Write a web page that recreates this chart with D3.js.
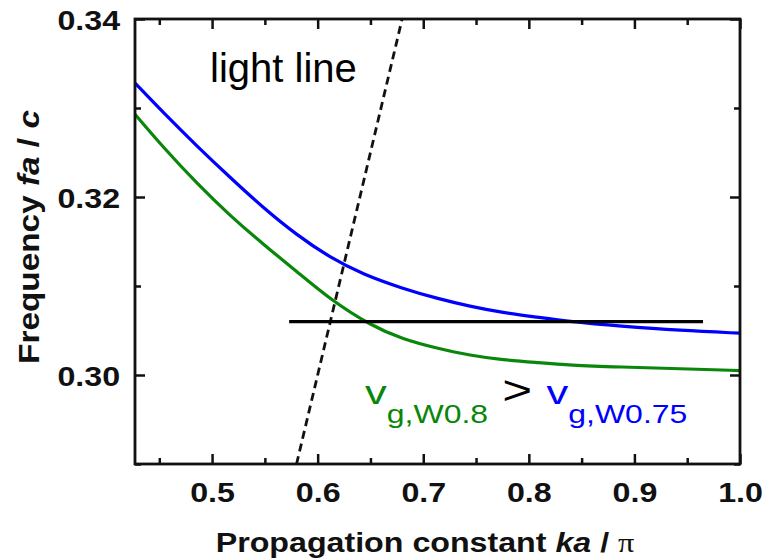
<!DOCTYPE html>
<html>
<head>
<meta charset="utf-8">
<script src="https://cdn.jsdelivr.net/npm/d3@7"></script>
<style>
  html, body { margin: 0; padding: 0; background: #fff; }
  svg { display: block; }
  text { font-family: "Liberation Sans", Arial, sans-serif; }
</style>
</head>
<body>
<svg id="chart" width="770" height="558"></svg>
<script>
// Dispersion of the guided mode for two waveguide widths (W0.75 and W0.8)
const kW075 = [0.427, 0.4536, 0.4858, 0.5170, 0.5483, 0.5805, 0.6117, 0.6430, 0.6809, 0.7131, 0.7443, 0.7756, 0.8078, 0.8390, 0.8864, 0.9432, 1.0];
const fW075 = [0.3328, 0.3295, 0.3257, 0.3222, 0.3188, 0.3157, 0.3132, 0.3113, 0.3097, 0.3086, 0.3077, 0.3070, 0.3065, 0.3060, 0.3055, 0.3050, 0.3047];

const kW08 = [0.427, 0.4536, 0.4858, 0.5170, 0.5483, 0.5805, 0.6117, 0.6496, 0.6809, 0.7131, 0.7443, 0.7756, 0.8078, 0.8390, 0.8864, 0.9432, 1.0];
const fW08 = [0.3293, 0.3256, 0.3215, 0.3179, 0.3147, 0.3116, 0.3085, 0.3056, 0.3040, 0.3030, 0.3022, 0.3017, 0.3014, 0.3011, 0.3009, 0.3007, 0.3005];

// light line (dashed) and the operating-frequency line
const lightK = [0.58, 0.68];
const lightF = [0.29, 0.34];
const opK = [0.573, 0.965];
const opF = [0.3060, 0.3060];

const xDomain = [0.427, 1.0];
const yDomain = [0.29, 0.34];
const xMajor = [0.5, 0.6, 0.7, 0.8, 0.9, 1.0];
const xMinor = [0.45, 0.55, 0.65, 0.75, 0.85, 0.95];
const yMajor = [0.30, 0.32, 0.34];
const yMinor = [0.29, 0.31, 0.33];

const svg = d3.select("#chart");
const margin = {left: 135, top: 19, right: 30, bottom: 94};
const W = 770, H = 558;
const iw = W - margin.left - margin.right;
const ih = H - margin.top - margin.bottom;
const x0 = margin.left, x1 = margin.left + iw, y0 = margin.top + ih, y1 = margin.top;

const x = d3.scaleLinear().domain(xDomain).range([x0, x1]);
const y = d3.scaleLinear().domain(yDomain).range([y0, y1]);

svg.append("defs").append("clipPath").attr("id", "plotClip")
  .append("rect").attr("x", x0).attr("y", y1).attr("width", iw).attr("height", ih);

const plot = svg.append("g").attr("clip-path", "url(#plotClip)");

const line = d3.line().x(d => x(d[0])).y(d => y(d[1])).curve(d3.curveBasis);
const straight = d3.line().x(d => x(d[0])).y(d => y(d[1]));

plot.append("path").datum(d3.zip(kW075, fW075))
  .attr("d", line).attr("fill", "none").attr("stroke", "#0000ff").attr("stroke-width", 3.2);
plot.append("path").datum(d3.zip(kW08, fW08))
  .attr("d", line).attr("fill", "none").attr("stroke", "#0a870a").attr("stroke-width", 3.2);
plot.append("path").datum(d3.zip(lightK, lightF))
  .attr("d", straight).attr("fill", "none").attr("stroke", "#111").attr("stroke-width", 2.8)
  .attr("stroke-dasharray", "8,5");
plot.append("path").datum(d3.zip(opK, opF))
  .attr("d", straight).attr("fill", "none").attr("stroke", "#000").attr("stroke-width", 3.2);

// axes: inward ticks on all four sides, labels on bottom and left
const fmtX = d3.format(".1f"), fmtY = d3.format(".2f");
function tidy(g) {
  g.select(".domain").remove();
  g.selectAll(".tick line").attr("stroke", "#111").attr("stroke-width", 2.5);
}
function addAxis(axis, tx, ty) {
  return svg.append("g").attr("transform", `translate(${tx},${ty})`).call(axis).call(tidy);
}

const bottom = addAxis(d3.axisBottom(x).tickValues(xMajor).tickSize(-10).tickFormat(fmtX), 0, y0);
bottom.selectAll(".tick text")
  .attr("y", 18).attr("dy", "0.716em")
  .attr("transform", "scale(1.15,1)")
  .style("font-size", "28px").style("font-weight", "bold").attr("fill", "#111");
addAxis(d3.axisBottom(x).tickValues(xMinor).tickSize(-6).tickFormat(() => ""), 0, y0);
addAxis(d3.axisTop(x).tickValues(xMajor).tickSize(-10).tickFormat(() => ""), 0, y1);
addAxis(d3.axisTop(x).tickValues(xMinor).tickSize(-6).tickFormat(() => ""), 0, y1);

const left = addAxis(d3.axisLeft(y).tickValues(yMajor).tickSize(-10).tickFormat(fmtY), x0, 0);
left.selectAll(".tick text")
  .attr("x", -13).attr("dy", "0.36em")
  .attr("transform", "scale(1.15,1)")
  .style("font-size", "28px").style("font-weight", "bold").attr("fill", "#111");
addAxis(d3.axisLeft(y).tickValues(yMinor).tickSize(-6).tickFormat(() => ""), x0, 0);
addAxis(d3.axisRight(y).tickValues(yMajor).tickSize(-10).tickFormat(() => ""), x1, 0);
addAxis(d3.axisRight(y).tickValues(yMinor).tickSize(-6).tickFormat(() => ""), x1, 0);

// frame
svg.append("rect").attr("x", x0).attr("y", y1).attr("width", iw).attr("height", ih)
  .attr("fill", "none").attr("stroke", "#111").attr("stroke-width", 2.8);

// axis titles
const xt = svg.append("text")
  .attr("transform", `translate(425,552) scale(1.15,1)`)
  .attr("text-anchor", "middle").style("font-size", "28px").style("font-weight", "bold").attr("fill", "#111");
xt.append("tspan").text("Propagation constant ");
xt.append("tspan").style("font-style", "italic").text("ka");
xt.append("tspan").text(" / ");
xt.append("tspan").style("font-family", "'Liberation Serif', serif").style("font-weight", "normal").text("π");

const yt = svg.append("text")
  .attr("transform", `translate(39,237) rotate(-90) scale(1.15,1)`)
  .attr("text-anchor", "middle").style("font-size", "29px").style("font-weight", "bold").attr("fill", "#111");
yt.append("tspan").text("Frequency ");
yt.append("tspan").style("font-style", "italic").text("fa");
yt.append("tspan").text(" / ");
yt.append("tspan").style("font-style", "italic").text("c");

// annotations
svg.append("text").attr("x", 210).attr("y", 82)
  .style("font-size", "40px").attr("fill", "#000").text("light line");

const ann = svg.append("text").attr("transform", "translate(365,404) scale(1.28,1)")
  .style("font-size", "34px");
ann.append("tspan").attr("fill", "#0a870a").text("v");
ann.append("tspan").attr("fill", "#0a870a").style("font-size", "25px").attr("dy", 19).text("g,W0.8");
ann.append("tspan").attr("fill", "#000").attr("dy", -19).style("font-size", "40px").text(" > ");
ann.append("tspan").attr("fill", "#0000ff").text("v");
ann.append("tspan").attr("fill", "#0000ff").style("font-size", "25px").attr("dy", 19).text("g,W0.75");
</script>
</body>
</html>
